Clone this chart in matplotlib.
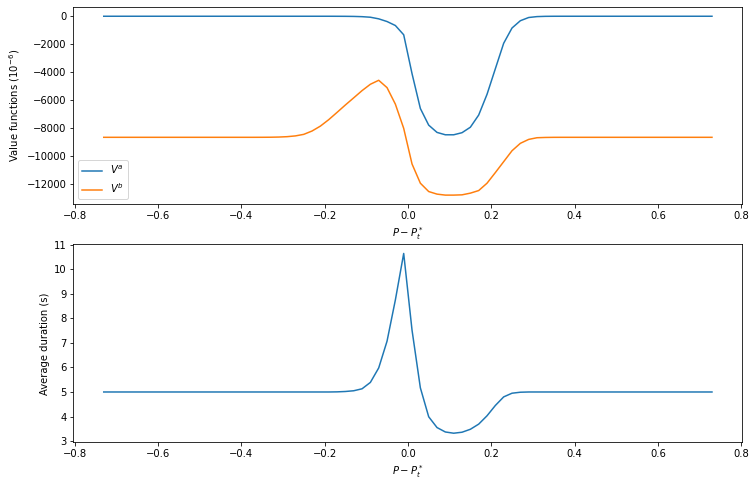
import numpy as np
import matplotlib
matplotlib.use("Agg")
import matplotlib.pyplot as plt

# price grid: odd hundredths from -0.73 to 0.73
price = np.arange(-73, 75, 2) / 100

# value functions (1e-6)
v_a = [0, 0, 0, 0, 0, 0, 0, 0, 0, 0,
       0, 0, 0, 0, 0, 0, 0, 0, 0, 0,
       0, 0, 0, 0, 0, 0, 0, 0,
       -2, -5, -12, -30, -70, -185, -377, -662, -1324,
       -4100, -6590, -7780, -8300, -8470, -8470, -8320, -7930, -7060,
       -5580, -3750, -1930, -840, -320, -90, -25, -6, -1,
       0, 0, 0, 0, 0, 0, 0, 0, 0, 0,
       0, 0, 0, 0, 0, 0, 0, 0, 0]

v_b = [-8650, -8650, -8650, -8650, -8650, -8650, -8650, -8650, -8650, -8650,
       -8650, -8650, -8650, -8650, -8650, -8650, -8650, -8650, -8650,
       -8648, -8644, -8632, -8605, -8550, -8440, -8200, -7850, -7390,
       -6870, -6340, -5830, -5315, -4860, -4576, -5100, -6280, -8010,
       -10555, -11930, -12525, -12710, -12780, -12780, -12760, -12640, -12455,
       -11930, -11170, -10390, -9610, -9080, -8800, -8680, -8660, -8652,
       -8650, -8650, -8650, -8650, -8650, -8650, -8650, -8650, -8650, -8650,
       -8650, -8650, -8650, -8650, -8650, -8650, -8650, -8650, -8650]

# average duration (s)
duration = [5.0, 5.0, 5.0, 5.0, 5.0, 5.0, 5.0, 5.0, 5.0, 5.0,
            5.0, 5.0, 5.0, 5.0, 5.0, 5.0, 5.0, 5.0, 5.0, 5.0,
            5.0, 5.0, 5.0, 5.0, 5.0, 5.0, 5.0, 5.0,
            5.005, 5.02, 5.05, 5.13, 5.39, 5.98, 7.07, 8.75, 10.645,
            7.52, 5.17, 3.99, 3.55, 3.37, 3.32, 3.36, 3.48, 3.69,
            4.03, 4.45, 4.80, 4.95, 4.99, 5.0, 5.0, 5.0, 5.0,
            5.0, 5.0, 5.0, 5.0, 5.0, 5.0, 5.0, 5.0, 5.0, 5.0,
            5.0, 5.0, 5.0, 5.0, 5.0, 5.0, 5.0, 5.0, 5.0]

fig = plt.figure(figsize=(756 / 72, 487 / 72), dpi=72)
ax1 = fig.add_axes([0.097, 0.581, 0.885, 0.404])
ax2 = fig.add_axes([0.097, 0.092, 0.885, 0.406])

ax1.plot(price, v_a, label='$V^a$')
ax1.plot(price, v_b, label='$V^b$')
ax1.legend(loc='lower left')
ax1.set_ylabel('Value functions ($10^{-6}$)')
ax1.set_xlabel('$P - P_t^*$')

ax2.plot(price, duration)
ax2.set_ylabel('Average duration (s)')
ax2.set_xlabel('$P - P_t^*$')

fig.savefig('out.png', dpi=72)
